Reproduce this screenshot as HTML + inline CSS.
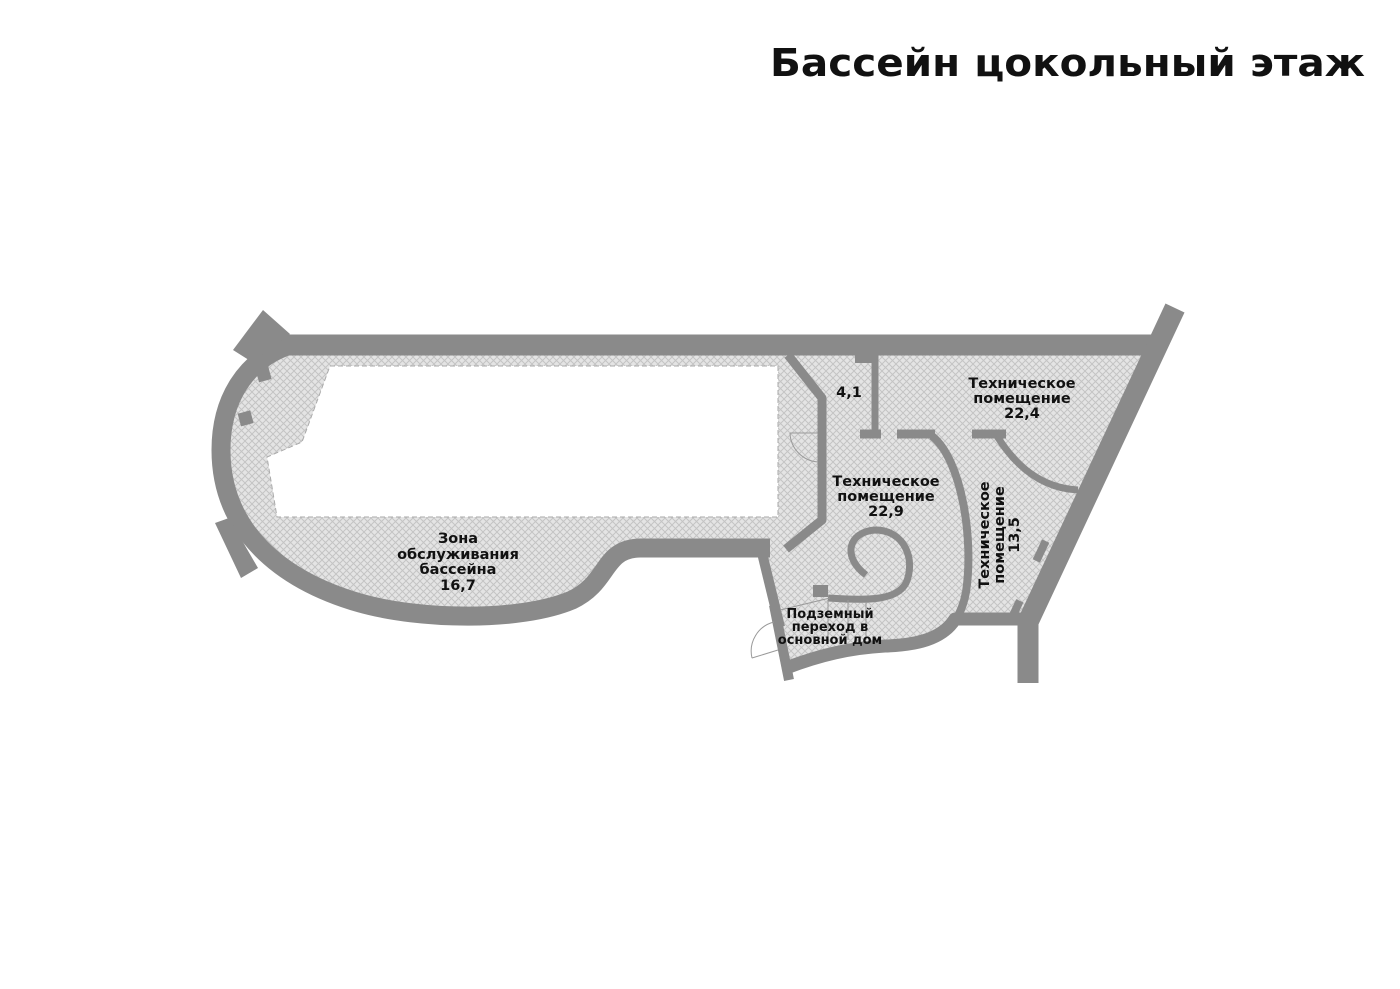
<!DOCTYPE html>
<html><head><meta charset="utf-8"><style>
html,body{margin:0;padding:0;background:#fff;}
svg{display:block}
text{font-family:"DejaVu Sans","Liberation Sans",sans-serif;font-weight:bold;fill:#111;}
</style></head><body>
<svg width="1400" height="989" viewBox="0 0 1400 989" xmlns="http://www.w3.org/2000/svg">
<defs>
<pattern id="h" width="7" height="7" patternUnits="userSpaceOnUse">
<rect width="7" height="7" fill="#e4e4e4"/>
<path d="M0,0 L7,7 M7,0 L0,7" stroke="#c4c4c4" stroke-width="1"/>
</pattern>
</defs>
<text x="1365" y="76" text-anchor="end" font-size="38" textLength="595" lengthAdjust="spacingAndGlyphs">Бассейн цокольный этаж</text>

<path d="M290,350 L1160,350 L1028,620 L955,618 C945,635 920,645 880,645 C850,648 820,655 790,668 L770,600 L760,553 L640,548 C600,550 610,580 570,598 C520,620 420,615 360,600 C280,580 221,530 221,450 C221,400 245,360 290,350 Z" fill="url(#h)"/>
<path d="M330,366 L778,366 L778,517 L277,517 L267,457 L302,442 Z" fill="#fff" stroke="#aaa" stroke-width="1" stroke-dasharray="5,3"/>

<g fill="none" stroke="#8a8a8a" stroke-linejoin="round">
<path d="M290,345 C245,360 221,400 221,450 C221,530 280,580 360,603 C420,620 520,622 572,600 C610,582 602,549 640,548 L770,548" stroke-width="19"/>
<path d="M268,345 L1160,345" stroke-width="21"/>
<path d="M1175,308 L1028,622 L1028,683" stroke-width="21"/>
<path d="M788,355 L822,398 L822,520 L786,549" stroke-width="9"/>
<path d="M762,553 L780,627" stroke-width="10"/>
<path d="M875,355 L875,432" stroke-width="7"/>
<path d="M860,434 L881,434 M897,434 L935,434 M972,434 L1006,434" stroke-width="9"/>
<path d="M932,436 C962,460 974,540 966,592 C960,625 940,646 900,646" stroke-width="8"/>
<path d="M997,436 C1015,465 1040,488 1078,490" stroke-width="7"/>
<path d="M786,668 C820,655 850,648 885,646 C925,645 945,635 955,619 L1030,619" stroke-width="13"/>
<path d="M866,575 C842,557 848,532 875,530 C905,530 916,560 906,583 C897,600 870,601 828,598" stroke-width="7"/>
<path d="M774,605 L789,680" stroke-width="10"/>
</g>
<g fill="#8a8a8a">
<polygon points="263,310 290,334 252,362 233,350"/>
<polygon points="215,523 229,518 258,568 241,578"/>
<rect x="257" y="368" width="13" height="13" transform="rotate(-15 263 374)"/>
<rect x="239" y="412" width="13" height="13" transform="rotate(-15 245 418)"/>
<rect x="855" y="354" width="18" height="9"/>
<rect x="813" y="585" width="15" height="12"/>
<rect x="1037" y="540" width="8" height="22" transform="rotate(25 1041 551)"/>
<rect x="1012" y="600" width="8" height="18" transform="rotate(25 1016 609)"/>
</g>
<g fill="none" stroke="#999" stroke-width="1">
<path d="M790,433 A30,30 0 0 0 818,462 M790,433 L818,433"/>
<path d="M752,658 A30,30 0 0 1 774,622 M752,658 L778,650"/>
<path d="M780,610 L830,598 M828,600 L828,640 M848,600 L848,640 M866,602 L866,640"/>
</g>
<g font-size="14.5" text-anchor="middle">
<text x="458" y="543">Зона</text>
<text x="458" y="559">обслуживания</text>
<text x="458" y="574">бассейна</text>
<text x="458" y="590">16,7</text>
<text x="849" y="397">4,1</text>
<text x="1022" y="388">Техническое</text>
<text x="1022" y="403">помещение</text>
<text x="1022" y="418">22,4</text>
<text x="886" y="486">Техническое</text>
<text x="886" y="501">помещение</text>
<text x="886" y="516">22,9</text>
<g transform="translate(993,535) rotate(-90)">
<text x="0" y="-4">Техническое</text>
<text x="0" y="11">помещение</text>
<text x="0" y="26">13,5</text>
</g>
</g>
<g font-size="13" text-anchor="middle">
<text x="830" y="618">Подземный</text>
<text x="830" y="631">переход в</text>
<text x="830" y="644">основной дом</text>
</g>
</svg>
</body></html>
